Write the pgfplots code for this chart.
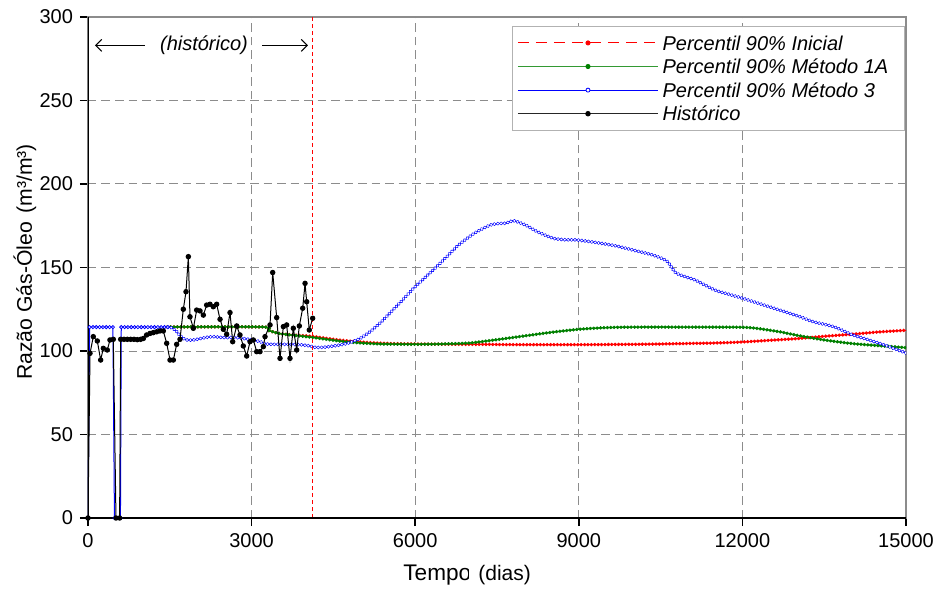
\documentclass[border=0pt]{standalone}
\usepackage{pgfplots}
\pgfplotsset{compat=1.18}
\usepackage{pgfplotstable}
\usepackage{fontspec}
\setmainfont{Liberation Sans}
\usetikzlibrary{arrows.meta}
\definecolor{cred}{rgb}{1,0,0}
\definecolor{cgreen}{rgb}{0,0.5,0}
\definecolor{cblue}{rgb}{0,0,1}
\definecolor{gridgray}{rgb}{0.55,0.55,0.55}

% Percentil 90% Inicial
\pgfplotstableread{
x y
1450 114.4
3200 114.4
3300 112.5
3500 110.5
3800 109.5
4100 108.8
4600 106.6
5000 105.4
5400 104.6
6000 104.2
7000 104.0
8000 103.8
9000 103.8
10000 104.0
10500 104.2
11000 104.5
11500 104.8
12000 105.4
12500 106.4
13000 107.4
13500 108.8
14000 110.0
14500 111.4
15000 112.4
}\redtab

% Percentil 90% Metodo 1A
\pgfplotstableread{
x y
1450 114.4
3200 114.4
3300 112.5
3500 110.5
3800 109.3
4100 108.2
4600 106.0
5000 104.8
5400 104.2
6000 104.0
6500 104.2
7000 104.8
7500 106.8
8000 109.0
8500 111.2
9000 113.0
9500 114.0
10000 114.3
11000 114.3
12000 114.2
12300 113.4
12700 111.4
13000 109.4
13500 106.6
14000 104.5
14500 103.2
15000 102.0
}\greentab

% Percentil 90% Metodo 3 (historical part, marked points)
\pgfplotstableread{
x y
0 0
30 114.3
91 114.3
152 114.3
213 114.3
274 114.3
335 114.3
396 114.3
457 114.3
485 0
595 0
610 114.3
671 114.3
732 114.3
793 114.3
854 114.3
915 114.3
976 114.3
1037 114.3
1098 114.3
1159 114.3
1220 114.3
1281 114.3
1342 114.3
1403 114.3
1464 114.3
}\bluehist

% Percentil 90% Metodo 3 (rest)
\pgfplotstableread{
x y
1464 114.3
1504 114.3
1565 113.3
1626 111.6
1718 108.2
1810 106.6
1932 106.6
2054 107.4
2176 108.2
2298 108.6
2421 108.2
2543 108.0
2665 108.2
2787 107.8
2910 107.2
3032 106.6
3154 105.6
3276 104.2
3399 104.0
3643 104.0
3887 103.8
4071 103.0
4163 102.2
4316 102.2
4621 103.6
4800 105.0
4988 107.5
5170 111.5
5349 116.6
5530 122.5
5711 128.6
6000 138.5
6361 149.5
6580 156.5
6795 163.5
7084 170.5
7374 175.4
7560 176.4
7663 176.5
7807 178.0
8024 175.4
8241 171.4
8530 167.5
8750 166.6
8964 166.5
9325 164.9
9687 162.9
10048 160.0
10300 158.0
10482 156.0
10627 153.5
10771 147.0
10950 144.5
11133 142.5
11494 136.5
11750 134.0
12000 131.6
12578 125.6
13057 120.5
13301 117.5
13669 114.6
14024 109.6
14280 107.0
14602 103.6
15000 98.8
}\bluetab

% Historico
\pgfplotstableread{
x y
0 0
37 98.6
97 108.6
171 106
232 94.6
281 101.6
354 100.6
403 106.6
464 107
513 0
580 0
599 107
660 107
721 107
782 107
843 107
904 106.8
965 107
1015 107.5
1075 109.6
1136 110.5
1197 111
1258 111.5
1320 112
1381 112
1443 104.6
1504 94.6
1565 94.6
1626 104
1687 107
1748 125
1797 135.5
1840 156.5
1870 120.5
1932 113.6
1993 124.5
2054 124
2115 121.5
2176 127.5
2237 128
2298 126.5
2359 128
2421 119
2482 113
2543 110
2604 123
2653 105.6
2727 115
2787 109.6
2848 103
2910 97
2971 105.6
3032 106.6
3093 99.6
3154 99.6
3215 102.6
3246 108.6
3338 115.6
3387 147
3460 120
3521 95.6
3582 114.6
3643 115.6
3704 95.6
3765 113.6
3827 100.6
3875 115
3937 125.6
3980 140.5
4010 129.5
4058 112.6
4120 119.6
}\histtab

\tikzset{dotrow/.style={line cap=round, dash pattern=on 0.15pt off 1.55pt}}

\begin{document}
\begin{tikzpicture}
\begin{axis}[
  at={(0,0)}, anchor=south west,
  scale only axis, width=409pt, height=250.5pt,
  xmin=0, xmax=15000, ymin=0, ymax=300,
  xtick={0,3000,6000,9000,12000,15000},
  ytick={0,50,100,150,200,250,300},
  scaled x ticks=false,
  /pgf/number format/1000 sep={},
  /pgf/number format/assume math mode=true,
  tick label style={font=\fontsize{10}{12}\selectfont},
  tick align=outside, xtick pos=left, ytick pos=left,
  major tick length=4pt,
  tick style={black, line width=0.8pt},
  grid=major,
  major grid style={gridgray, dash pattern=on 4.25pt off 2.5pt, line width=0.5pt},
  axis line style={gridgray, line width=0.6pt},
  legend cell align=left,
  legend style={at={(rel axis cs:0.9985,0.982)}, anchor=north east,
    draw=gray!60, line width=0.5pt, fill=white,
    font=\fontsize{10}{12}\selectfont\itshape,
    inner xsep=2.5pt, inner ysep=2.3pt, row sep=0pt,
    nodes={inner xsep=2pt, inner ysep=1.5pt, text height=8pt, text depth=0.8pt},
    /tikz/every even column/.append style={column sep=2.5pt}},
]
% Percentil 90% Inicial
\addplot[cred, line width=0.5pt, smooth, tension=0.4, forget plot] table {\redtab};
\addplot[cred, line width=1.75pt, dotrow, smooth, tension=0.4, forget plot] table {\redtab};
% Percentil 90% Metodo 1A
\addplot[cgreen, line width=0.6pt, smooth, tension=0.4, forget plot] table {\greentab};
\addplot[cgreen, line width=1.75pt, dotrow, smooth, tension=0.4, forget plot] table {\greentab};
% Percentil 90% Metodo 3
\addplot[cblue, line width=0.5pt, mark=*, mark size=0.8pt,
  mark options={fill=white, draw=cblue, line width=0.4pt}, forget plot] table {\bluehist};
\addplot[cblue, line width=0.5pt, smooth, tension=0.4, forget plot] table {\bluetab};
\addplot[cblue, line width=1.8pt, dotrow, smooth, tension=0.4, forget plot] table {\bluetab};
\addplot[white, line width=0.95pt, dotrow, smooth, tension=0.4, forget plot] table {\bluetab};
% Historico
\addplot[black, line width=0.5pt, mark=*, mark size=1.1pt, forget plot] table {\histtab};

\addplot[cred, line width=0.5pt, dash pattern=on 2pt off 1.5pt, forget plot]
  coordinates {(4120,0) (4120,300)};

\addlegendimage{legend image code/.code={
    \draw[cred, line width=0.5pt, dash pattern=on 5.5pt off 3.5pt] (0pt,0pt) -- (70pt,0pt);
    \fill[cred] (35pt,0pt) circle (1pt);}}
\addlegendentry{Percentil 90\% Inicial}
\addlegendimage{legend image code/.code={
    \draw[cgreen!80!white, line width=0.6pt] (0pt,0pt) -- (70pt,0pt);
    \fill[cgreen] (35pt,0pt) circle (1pt);}}
\addlegendentry{Percentil 90\% Método 1A\hspace*{3.5pt}}
\addlegendimage{legend image code/.code={
    \draw[cblue, line width=0.5pt] (0pt,0pt) -- (70pt,0pt);
    \draw[cblue, fill=white, line width=0.4pt] (35pt,0pt) circle (1pt);}}
\addlegendentry{Percentil 90\% Método 3}
\addlegendimage{legend image code/.code={
    \draw[black!85, line width=0.6pt] (0pt,0pt) -- (70pt,0pt);
    \fill[black] (35pt,0pt) circle (1.1pt);}}
\addlegendentry{Histórico}

\node[font=\fontsize{10}{12}\selectfont\itshape] at (axis cs:2127,283) {(histórico)};
\draw[-{Straight Barb[length=3pt,width=6pt]}, line width=0.5pt] (axis cs:1045,283) -- (axis cs:128,283);
\draw[-{Straight Barb[length=3pt,width=6pt]}, line width=0.5pt] (axis cs:3191,283) -- (axis cs:4034,283);

\draw[black, line width=1.1pt] (rel axis cs:0,1) -- (rel axis cs:0,0) -- (rel axis cs:1,0);
\end{axis}

\node[rotate=90, anchor=center, font=\fontsize{10.6}{12}\selectfont] at (-31.5pt,128pt) {Razão Gás-Óleo\hspace{0.4em}(m³/m³)};
\node[anchor=base west, inner sep=0pt, font=\fontsize{11.3}{13}\selectfont] at (157.5pt,-31pt) {Tempo};
\node[anchor=base west, fill=white, inner xsep=4.5pt, inner ysep=1pt, font=\fontsize{10.5}{12}\selectfont] at (190.5pt,-31pt) {(dias)};

\pgfresetboundingbox
\path[use as bounding box] (-44pt,-35.5pt) rectangle (426pt,259pt);
\end{tikzpicture}
\end{document}
